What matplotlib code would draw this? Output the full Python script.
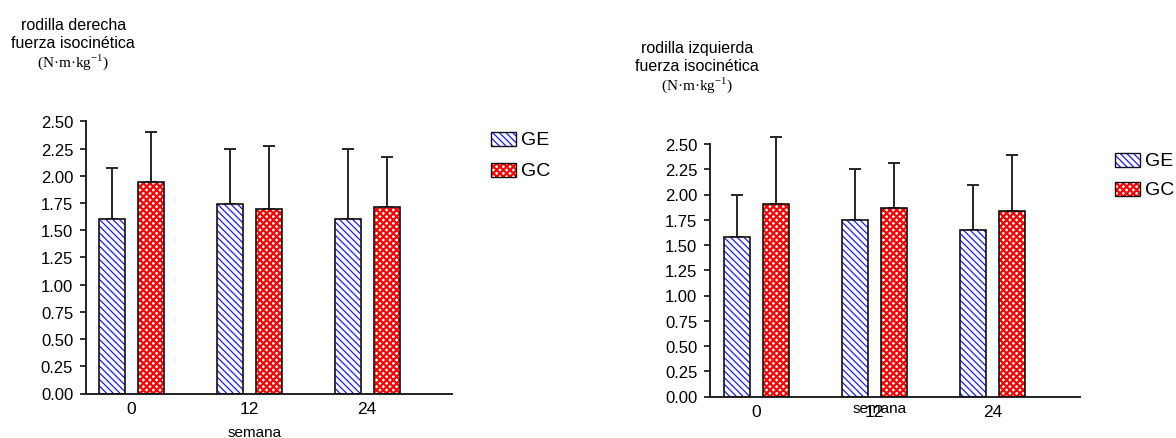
import matplotlib
matplotlib.use("Agg")
import matplotlib.pyplot as plt
import numpy as np
from matplotlib.patches import Rectangle

plt.rcParams['font.family'] = ['Liberation Sans', 'DejaVu Sans']
plt.rcParams['mathtext.fontset'] = 'custom'
plt.rcParams['mathtext.rm'] = 'Liberation Serif'

# ---- data ----
weeks = ['0', '12', '24']
groups = ['GE', 'GC']
right_GE_mean = [1.60, 1.74, 1.60]
right_GE_top = [2.07, 2.25, 2.25]
right_GC_mean = [1.94, 1.69, 1.71]
right_GC_top = [2.40, 2.27, 2.17]
left_GE_mean = [1.58, 1.75, 1.65]
left_GE_top = [2.00, 2.25, 2.09]
left_GC_mean = [1.91, 1.87, 1.84]
left_GC_top = [2.57, 2.31, 2.39]
yticks = [0.00, 0.25, 0.50, 0.75, 1.00, 1.25, 1.50, 1.75, 2.00, 2.25, 2.50]
titles_right = ['rodilla derecha', 'fuerza isocinética']
titles_left = ['rodilla izquierda', 'fuerza isocinética']
units = r'(N·m·kg$^{\mathrm{-1}}$)'
xlabel = 'semana'

W, H = 1176, 439
fig = plt.figure(figsize=(W / 100, H / 100), dpi=100)

def fx(px):
    return px / W

def fy(py):
    return 1 - py / H

styles = {
    'GE': dict(color='#1a1aff', hatch='\\\\\\\\\\', hlw=0.9),
    'GC': dict(color='#ff0000', hatch='xxxxx', hlw=1.6),
}
errc = '#262626'

def panel(rect, xlim, ge_m, ge_t, gc_m, gc_t):
    ax = fig.add_axes(rect)
    x = np.arange(len(weeks))
    w = 0.22
    off = 0.165
    for name, m, t, sgn in [('GE', ge_m, ge_t, -1), ('GC', gc_m, gc_t, 1)]:
        st = styles[name]
        xs = x + sgn * off
        m = np.array(m)
        t = np.array(t)
        with plt.rc_context({'hatch.linewidth': st['hlw']}):
            ax.bar(xs, m, w, color='white', edgecolor=st['color'], hatch=st['hatch'],
                   linewidth=0, zorder=2)
        ax.bar(xs, m, w, fill=False, edgecolor='#111111', linewidth=1.2, zorder=3)
        ax.errorbar(xs, m, yerr=[np.zeros_like(m), t - m], fmt='none', ecolor=errc,
                    elinewidth=1.4, capsize=4.3, capthick=1.4, zorder=1, clip_on=False)
    ax.set_xlim(*xlim)
    ax.set_ylim(0, 2.5)
    ax.set_yticks(yticks)
    ax.set_yticklabels([f'{v:.2f}' for v in yticks])
    ax.set_xticks(x)
    ax.set_xticklabels(weeks)
    for s in ['top', 'right']:
        ax.spines[s].set_visible(False)
    for s in ['left', 'bottom']:
        ax.spines[s].set_linewidth(1.4)
        ax.spines[s].set_color('#222222')
    ax.tick_params(axis='y', length=4.5, width=1.3, labelsize=12, pad=4.5, color='#222222')
    ax.tick_params(axis='x', length=0, labelsize=12.5, pad=5.5)
    return ax

# left panel (rodilla derecha)
axL = panel([fx(85.7), fy(394.5), fx(452 - 85.7), (394.5 - 122.3) / H], (-0.39, 2.72),
            right_GE_mean, right_GE_top, right_GC_mean, right_GC_top)
# right panel (rodilla izquierda)
axR = panel([fx(710), fy(397.5), fx(1080 - 710), (397.5 - 145) / H], (-0.39, 2.74),
            left_GE_mean, left_GE_top, left_GC_mean, left_GC_top)

# titles
for cx, ys, lines in [(73.3, (25, 43.3, 61.7), titles_right), (697, (48.3, 66.7, 85), titles_left)]:
    fig.text(fx(cx), fy(ys[0]), lines[0], ha='center', va='center', fontsize=11.5)
    fig.text(fx(cx), fy(ys[1]), lines[1], ha='center', va='center', fontsize=11.5)
    fig.text(fx(cx), fy(ys[2]), units, ha='center', va='center', fontsize=11,
             family='Liberation Serif')

fig.text(fx(255), fy(433.3), xlabel, ha='center', va='center', fontsize=11)
fig.text(fx(880), fy(409.3), xlabel, ha='center', va='center', fontsize=11)

# legends
for px, rows in [(491, (133.3, 164.3)), (1115, (154, 182.7))]:
    for name, top in zip(groups, rows):
        st = styles[name]
        with plt.rc_context({'hatch.linewidth': st['hlw']}):
            fig.add_artist(Rectangle((fx(px), fy(top + 14)), fx(25), 14 / H, transform=fig.transFigure,
                                     facecolor='white', edgecolor=st['color'], hatch=st['hatch'],
                                     linewidth=0))
        fig.add_artist(Rectangle((fx(px), fy(top + 14)), fx(25), 14 / H, transform=fig.transFigure,
                                 fill=False, edgecolor='#111111', linewidth=1.0))
        fig.text(fx(px + 30), fy(top + 7.5), name, ha='left', va='center', fontsize=14)

fig.savefig('out.png', dpi=100)
